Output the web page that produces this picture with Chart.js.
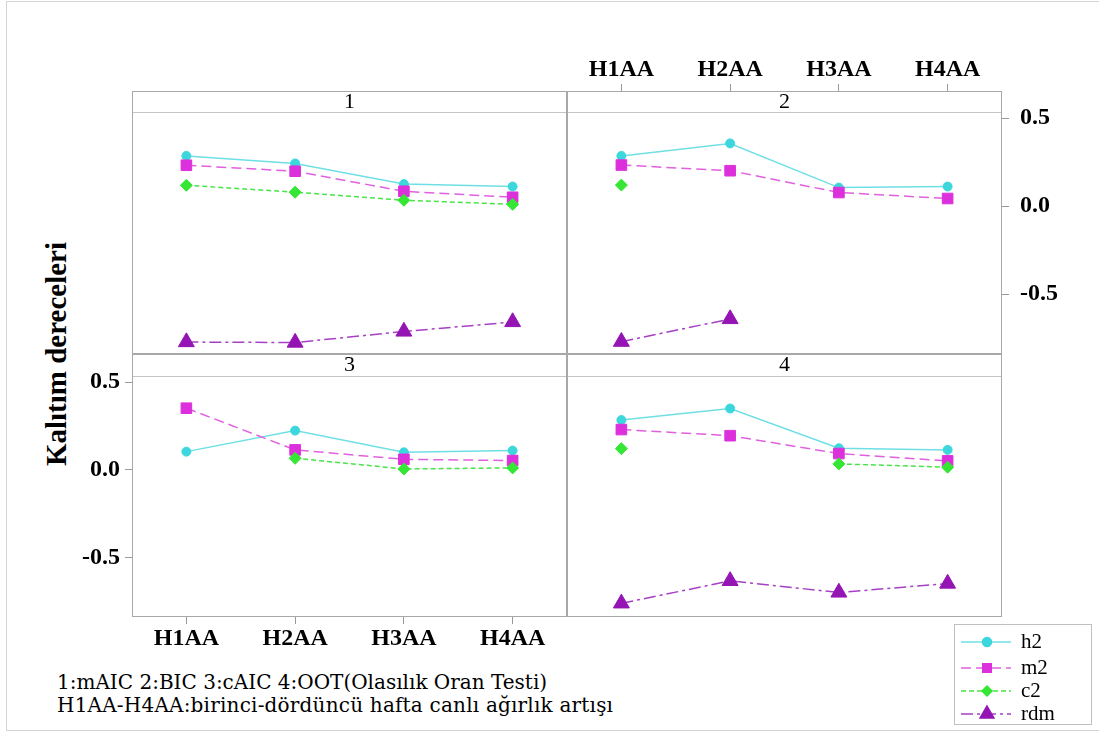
<!DOCTYPE html>
<html>
<head>
<meta charset="utf-8">
<script src="https://cdn.jsdelivr.net/npm/chart.js@4.4.0/dist/chart.umd.min.js"></script>
<style>
  body { margin: 0; width: 1099px; height: 731px; overflow: hidden; position: relative; background: #fff; }
  .frame { position: absolute; left: 6px; top: 1px; width: 1100px; height: 728px; border: 1px solid #d4d4d4; }
  canvas { position: absolute; }
  #ytitle { position: absolute; left: 56px; top: 354px; transform: translate(-50%, -50%) rotate(-90deg);
            font: bold 29px "Liberation Serif", serif; white-space: nowrap; color: #000; }
  .note { position: absolute; left: 57px; font: 20px "DejaVu Serif", serif; white-space: nowrap; color: #000; }
</style>
</head>
<body>
<div class="frame"></div>
<div id="ytitle">Kalıtım dereceleri</div>
<div class="note" style="top:670px">1:mAIC 2:BIC 3:cAIC 4:OOT(Olasılık Oran Testi)</div>
<div class="note" style="top:693px;letter-spacing:0.2px">H1AA-H4AA:birinci-dördüncü hafta canlı ağırlık artışı</div>

<canvas id="p1" width="435" height="263" style="left:132px;top:91px"></canvas>
<canvas id="p2" width="532" height="314" style="left:567px;top:40px"></canvas>
<canvas id="p3" width="507" height="316" style="left:60px;top:354px"></canvas>
<canvas id="p4" width="532" height="377" style="left:567px;top:354px"></canvas>

<script>
// categories and tick values
const categories = ["H1AA", "H2AA", "H3AA", "H4AA"];
const yTickValues = [-0.5, 0, 0.5];
const panelLabels = ["1", "2", "3", "4"];
const seriesNames = ["h2", "m2", "c2", "rdm"];

// panel 1: mAIC
const h2Panel1 = [0.286, 0.243, 0.126, 0.112];
const m2Panel1 = [0.233, 0.199, 0.085, 0.051];
const c2Panel1 = [0.119, 0.080, 0.034, 0.011];
const rdmPanel1 = [-0.772, -0.775, -0.712, -0.658];

// panel 2: BIC
const h2Panel2 = [0.286, 0.357, 0.106, 0.112];
const m2Panel2 = [0.234, 0.202, 0.078, 0.044];
const c2Panel2 = [0.120, null, null, null];
const rdmPanel2 = [-0.770, -0.641, null, null];

// panel 3: cAIC
const h2Panel3 = [0.104, 0.224, 0.100, 0.110];
const m2Panel3 = [0.352, 0.114, 0.060, 0.053];
const c2Panel3 = [null, 0.066, 0.005, 0.011];
const rdmPanel3 = [null, null, null, null];

// panel 4: OOT
const h2Panel4 = [0.284, 0.350, 0.123, 0.114];
const m2Panel4 = [0.230, 0.195, 0.093, 0.051];
const c2Panel4 = [0.121, null, 0.034, 0.015];
const rdmPanel4 = [-0.762, -0.634, -0.700, -0.649];

const Y_MIN = -0.84;
const Y_MAX = 0.53;

const STYLE = {
  h2:  { fill: "#3cd7dd", line: "#6ee0e4", dash: [],            shape: "circle",   r: 4.5, lr: 4.5 },
  m2:  { fill: "#dc30dc", line: "#e060e0", dash: [10, 5],       shape: "rect",     r: 7.5, lr: 6 },
  c2:  { fill: "#35e635", line: "#48e448", dash: [5, 3],        shape: "rectRot",  r: 6,   lr: 5 },
  rdm: { fill: "#9414b4", line: "#a640c4", dash: [12, 4, 3, 4], shape: "triangle", r: 9.2, lr: 8 },
};

Chart.defaults.font.family = "'Liberation Serif', serif";
Chart.defaults.color = "#000";

function makeDatasets(values) {
  return seriesNames.map((name, i) => ({
    label: name,
    data: values[i],
    order: seriesNames.length - i,
    borderColor: STYLE[name].line,
    borderWidth: 1.5,
    borderDash: STYLE[name].dash,
    pointStyle: STYLE[name].shape,
    pointRadius: STYLE[name].r,
    pointHoverRadius: STYLE[name].r,
    pointBackgroundColor: STYLE[name].fill,
    pointBorderColor: STYLE[name].fill,
    pointBorderWidth: 1,
    spanGaps: false,
    tension: 0,
    fill: false,
  }));
}

// header strip + box around each panel
const panelFrame = {
  id: "panelFrame",
  afterDraw(chart, args, opts) {
    const { ctx, chartArea: a } = chart;
    const ht = opts.header;
    ctx.save();
    ctx.fillStyle = "#fff";
    ctx.fillRect(a.left, a.top - ht, a.right - a.left, ht);
    ctx.lineWidth = 1;
    ctx.strokeStyle = "#c4c4c4";
    ctx.beginPath();
    ctx.moveTo(a.left, a.top - 0.5);
    ctx.lineTo(a.right, a.top - 0.5);
    ctx.stroke();
    ctx.strokeStyle = "#a8a8a8";
    ctx.strokeRect(a.left + 0.5, a.top - ht + 0.5, a.right - a.left - 1, a.bottom - a.top + ht - 1);
    ctx.fillStyle = "#000";
    ctx.font = "22px 'Liberation Serif', serif";
    ctx.textAlign = "center";
    ctx.textBaseline = "middle";
    ctx.fillText(opts.label, (a.left + a.right) / 2, a.top - ht / 2);
    ctx.restore();
  },
};
Chart.register(panelFrame);

// legend with line + marker samples, drawn on panel 4's canvas
const lineLegend = {
  id: "lineLegend",
  afterDraw(chart) {
    const ctx = chart.ctx;
    const box = { x: 387, y: 270, w: 138, h: 101 };
    ctx.save();
    ctx.fillStyle = "#fff";
    ctx.fillRect(box.x, box.y, box.w, box.h);
    ctx.strokeStyle = "#c0c0c0";
    ctx.lineWidth = 1;
    ctx.strokeRect(box.x + 0.5, box.y + 0.5, box.w - 1, box.h - 1);
    const rowY = [288, 314, 337, 360];
    chart.data.datasets.forEach((ds, i) => {
      const st = STYLE[ds.label];
      const y = rowY[i];
      ctx.strokeStyle = st.line;
      ctx.lineWidth = 1.5;
      ctx.setLineDash(st.dash);
      ctx.beginPath();
      ctx.moveTo(394, y);
      ctx.lineTo(444, y);
      ctx.stroke();
      ctx.setLineDash([]);
      ctx.fillStyle = st.fill;
      ctx.strokeStyle = st.fill;
      Chart.helpers.drawPoint(ctx, { pointStyle: st.shape, radius: st.lr, rotation: 0, borderWidth: 1 }, 420, y);
      ctx.fillStyle = "#000";
      ctx.font = "21px 'Liberation Serif', serif";
      ctx.textAlign = "left";
      ctx.textBaseline = "middle";
      ctx.fillText(ds.label, 454, y);
    });
    ctx.restore();
  },
};

function xScale(show, position, height, tickLength, padding) {
  return {
    type: "category",
    labels: categories,
    offset: true,
    display: show,
    position,
    grid: { drawOnChartArea: false, drawTicks: true, tickLength, color: "#9a9a9a" },
    border: { display: false },
    ticks: { font: { size: 24, weight: "bold" }, color: "#000", padding, maxRotation: 0, autoSkip: false },
    afterFit: (s) => { s.height = height; s.paddingLeft = 0; s.paddingRight = 0; },
  };
}

function yScale(show, position, width, padding) {
  return {
    type: "linear",
    min: Y_MIN,
    max: Y_MAX,
    display: show,
    position,
    grid: { drawOnChartArea: false, drawTicks: true, tickLength: 7, color: "#9a9a9a" },
    border: { display: false },
    afterBuildTicks: (s) => { s.ticks = yTickValues.map((v) => ({ value: v })); },
    ticks: { font: { size: 24, weight: "bold" }, color: "#000", padding, callback: (v) => Number(v).toFixed(1) },
    afterFit: (s) => { s.width = width; s.paddingTop = 0; s.paddingBottom = 0; },
  };
}

function makePanel(id, values, label, header, padding, scales, extraPlugins) {
  return new Chart(document.getElementById(id), {
    type: "line",
    data: { labels: categories, datasets: makeDatasets(values) },
    options: {
      responsive: false,
      animation: false,
      events: [],
      layout: { padding, autoPadding: false },
      plugins: {
        legend: { display: false },
        tooltip: { enabled: false },
        panelFrame: { label, header },
      },
      scales,
    },
    plugins: extraPlugins || [],
  });
}

makePanel("p1", [h2Panel1, m2Panel1, c2Panel1, rdmPanel1], panelLabels[0], 22,
  { top: 22, left: 0, right: 0, bottom: 0 },
  { x: xScale(false, "bottom", 0, 0, 0), y: yScale(false, "left", 0, 0) });

makePanel("p2", [h2Panel2, m2Panel2, c2Panel2, rdmPanel2], panelLabels[1], 22,
  { top: 0, left: 0, right: 0, bottom: 0 },
  { x: xScale(true, "top", 73, 29, 0), y: yScale(true, "right", 97, 11) });

makePanel("p3", [h2Panel3, m2Panel3, c2Panel3, rdmPanel3], panelLabels[2], 23,
  { top: 23, left: 0, right: 0, bottom: 0 },
  { x: xScale(true, "bottom", 53, 7, 0), y: yScale(true, "left", 72, 5) });

makePanel("p4", [h2Panel4, m2Panel4, c2Panel4, rdmPanel4], panelLabels[3], 23,
  { top: 23, left: 0, right: 97, bottom: 114 },
  { x: xScale(false, "bottom", 0, 0, 0), y: yScale(false, "left", 0, 0) },
  [lineLegend]);
</script>
</body>
</html>
